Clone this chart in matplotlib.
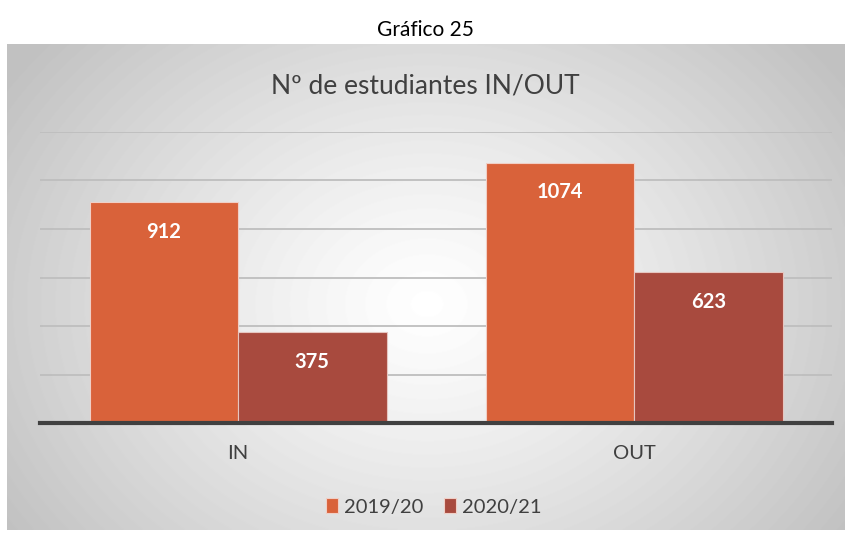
import numpy as np
import matplotlib.pyplot as plt
from matplotlib.patches import Patch

plt.rcParams['font.family'] = ['Lato', 'DejaVu Sans']

categories = ['IN', 'OUT']
series = ['2019/20', '2020/21']
v_1920 = [912, 1074]
v_2021 = [375, 623]
colors = ['#D9623A', '#A84A3E']

fig = plt.figure(figsize=(8.5, 5.39), dpi=100)
W, H = 850, 539

# chart area with radial gradient
bg = fig.add_axes([7 / W, 1 - 530 / H, 838 / W, 486 / H], zorder=0)
yy, xx = np.mgrid[0:486, 0:838]
r = np.sqrt(((xx - 420) / 500) ** 2 + ((yy - 260) / 400) ** 2)
shade = 1 - 0.24 * np.clip(r, 0, 1) ** 1.2
bg.imshow(shade, cmap='gray', vmin=0, vmax=1, aspect='auto')
bg.axis('off')

ax = fig.add_axes([40 / W, 1 - 423 / H, 792 / W, 291 / H], zorder=1)
ax.patch.set_alpha(0)
x = np.arange(len(categories))
w = 0.375
b1 = ax.bar(x - w / 2, v_1920, w, color=colors[0], edgecolor='#F0CFC6', linewidth=0.8, zorder=3)
b2 = ax.bar(x + w / 2, v_2021, w, color=colors[1], edgecolor='#E6C6C0', linewidth=0.8, zorder=3)

for bars, vals in [(b1, v_1920), (b2, v_2021)]:
    for rect, v in zip(bars, vals):
        ax.annotate(str(v), (rect.get_x() + rect.get_width() / 2, v),
                    xytext=(0, -21.5), textcoords='offset points',
                    ha='center', va='center', color='white',
                    fontsize=14.5, fontweight='bold', zorder=4)

ax.set_xlim(-0.5, 1.5)
ax.set_ylim(0, 1200)
ax.set_yticks(np.arange(0, 1201, 200))
ax.yaxis.grid(True, color='#BEBEBE', linewidth=1.3, zorder=1)
ax.tick_params(axis='y', left=False, labelleft=False)
ax.tick_params(axis='x', bottom=False, labelsize=14.5, colors='#404040', pad=12)
ax.set_xticks(x)
ax.set_xticklabels(categories)
for s in ['top', 'right', 'left']:
    ax.spines[s].set_visible(False)
ax.spines['bottom'].set_color('#404040')
ax.spines['bottom'].set_linewidth(3)
ax.spines['bottom'].set_zorder(5)

fig.text(0.5, 1 - 30 / H, 'Gráfico 25', ha='center', va='center', fontsize=15, color='#000000')
fig.text(0.5, 1 - 86 / H, 'Nº de estudiantes IN/OUT', ha='center', va='center', fontsize=19, color='#404040')

handles = [Patch(facecolor=c, edgecolor='#F0CFC6', linewidth=0.8) for c in colors]
leg = fig.legend(handles, series, loc='center', bbox_to_anchor=(0.51, 1 - 507 / H),
                 ncol=2, frameon=False, fontsize=14.5, handlelength=0.6, handleheight=0.75,
                 handletextpad=0.3, columnspacing=1.0)
for t in leg.get_texts():
    t.set_color('#404040')

fig.savefig('out.png', dpi=100)
